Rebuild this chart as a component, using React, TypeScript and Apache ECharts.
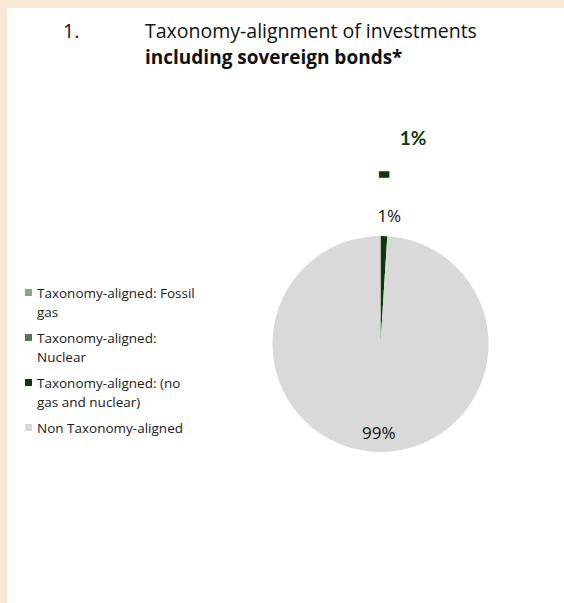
import React, { useEffect, useRef } from "react";
import * as echarts from "echarts";

const categories = [
  "Taxonomy-aligned: Fossil gas",
  "Taxonomy-aligned: Nuclear",
  "Taxonomy-aligned: (no gas and nuclear)",
  "Non Taxonomy-aligned",
];
const legendLabels = [
  "\nTaxonomy-aligned: Fossil\ngas",
  "\nTaxonomy-aligned:\nNuclear",
  "\nTaxonomy-aligned: (no\ngas and nuclear)",
  "\nNon Taxonomy-aligned\n",
];
const values = [0, 0, 1, 99];
const colors = ["#8DA68B", "#4F7A56", "#0C3A0C", "#D9D9D9"];
const titleNumber = "1.";
const titleLine1 = "Taxonomy-alignment of investments";
const titleLine2 = "including sovereign bonds*";
const annotations = ["1%", "-"];

export default function App() {
  const ref = useRef<HTMLDivElement>(null);
  useEffect(() => {
    if (!ref.current) return;
    const chart = echarts.init(ref.current, undefined, { renderer: "svg" });
    const font = "'Open Sans', 'Liberation Sans', sans-serif";
    chart.setOption({
      animation: false,
      backgroundColor: "#FBE9D7",
      graphic: [
        {
          type: "rect",
          z: -10,
          shape: { x: 7, y: 8, width: 560, height: 600 },
          style: { fill: "#FFFFFF" },
          silent: true,
        },
        {
          type: "text",
          z: 10,
          x: 413,
          y: 137,
          style: {
            text: annotations[0],
            fill: "#0C3A0C",
            font: "bold 19px Lato, sans-serif",
            align: "center",
            verticalAlign: "middle",
          },
        },
        {
          type: "text",
          z: 10,
          x: 384,
          y: 173,
          style: {
            text: annotations[1],
            fill: "#0C3A0C",
            font: "900 26px Lato, sans-serif",
            stroke: "#0C3A0C",
            lineWidth: 3.5,
            align: "center",
            verticalAlign: "middle",
          },
        },
      ],
      title: [
        {
          text: titleNumber,
          left: 63,
          top: 16.5,
          padding: 0,
          textStyle: {
            fontFamily: font,
            fontSize: 19.5,
            fontWeight: "normal",
            color: "#111",
            lineHeight: 27,
          },
        },
        {
          text: titleLine1 + "\n{b|" + titleLine2 + "}",
          left: 145,
          top: 16.5,
          padding: 0,
          textStyle: {
            fontFamily: font,
            fontSize: 19.5,
            fontWeight: "normal",
            color: "#111",
            lineHeight: 27,
            rich: {
              b: {
                fontFamily: font,
                fontSize: 19,
                fontWeight: "bold",
                color: "#111",
                lineHeight: 27,
              },
            },
          },
        },
      ],
      legend: {
        orient: "vertical",
        left: 25,
        top: 264,
        padding: 0,
        icon: "rect",
        itemWidth: 7,
        itemHeight: 7,
        itemGap: -12,
        selectedMode: false,
        data: categories,
        formatter: (name: string) => legendLabels[categories.indexOf(name)],
        textStyle: {
          fontFamily: font,
          fontSize: 13.5,
          color: "#1a1a1a",
          lineHeight: 19,
        },
      },
      series: [
        {
          type: "pie",
          center: [380.5, 344],
          radius: 108,
          startAngle: 90,
          clockwise: true,
          avoidLabelOverlap: false,
          label: {
            show: true,
            fontFamily: font,
            fontSize: 17,
            color: "#111",
            formatter: (p: any) => Math.round(p.percent) + "%",
          },
          labelLine: { show: false, length: 12, length2: 0 },
          labelLayout: (p: any) => {
            if (p.dataIndex === 3) return { dy: 32 };
            if (p.dataIndex === 2) return { align: "center", verticalAlign: "bottom" };
            return {};
          },
          data: categories.map((name, i) => ({
            name,
            value: values[i],
            itemStyle: { color: colors[i] },
            label:
              values[i] === 0
                ? { show: false }
                : i === 3
                ? { position: "inside" }
                : { position: "outside" },
          })),
        },
      ],
    });
    return () => chart.dispose();
  }, []);
  return (
    <div style={{ position: "absolute", left: 0, top: 0, width: 564, height: 603 }}>
      <div ref={ref} style={{ width: 564, height: 603 }} />
    </div>
  );
}
